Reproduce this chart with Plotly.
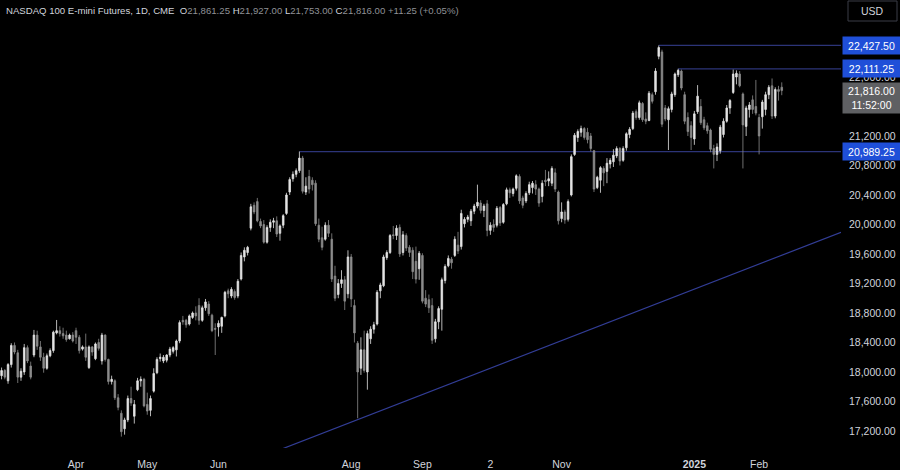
import pandas as pd
import plotly.graph_objects as go

# ---------------- data ----------------
holidays = ["2024-03-29", "2024-05-27", "2024-06-19", "2024-07-04", "2024-09-02",
            "2024-11-28", "2024-12-25", "2025-01-01", "2025-01-09", "2025-01-20"]
dates = [d.strftime("%Y-%m-%d") for d in pd.bdate_range("2024-02-27", "2025-02-12")
         if d.strftime("%Y-%m-%d") not in holidays]

opens = [17950, 18020, 17880, 18100, 18360, 18260, 17930, 18000, 18330, 18080,
         18230, 18500, 18340, 18200, 18050, 18220, 18290, 18530, 18560, 18520,
         18500, 18450, 18500, 18560, 18470, 18310, 18340, 18060, 18340, 18180,
         18400, 18150, 18500, 18170, 17870, 17880, 17650, 17440, 17230, 17350,
         17640, 17400, 17760, 17880, 17900, 17560, 17480, 17740, 17990, 18180,
         18150, 18160, 18230, 18280, 18300, 18420, 18700, 18700, 18650, 18740,
         18800, 18900, 18700, 18870, 18920, 18770, 18590, 18610, 18620, 18760,
         19100, 19030, 19090, 19030, 19260, 19560, 19620, 19950, 20260, 20310,
         20040, 20000, 19760, 19960, 20030, 20050, 19880, 19990, 20150, 20440,
         20620, 20680, 20730, 20900, 20440, 20650, 20600, 20560, 19990, 19820,
         19800, 19990, 19800, 19300, 19050, 19200, 19250, 19060, 19560, 18900,
         18390, 18050, 18300, 18000, 18450, 18580, 18650, 19100, 19170, 19550,
         19620, 19860, 19850, 19960, 19620, 19850, 19690, 19650, 19500, 19400,
         19580, 19000, 18980, 18900, 18450, 18680, 18850, 19240, 19440, 19530,
         19580, 19720, 19700, 20010, 20070, 20050, 20180, 20250, 20290, 20190,
         20280, 19920, 20000, 19990, 20230, 20030, 20280, 20470, 20420, 20490,
         20650, 20360, 20320, 20430, 20500, 20540, 20480, 20380, 20600, 20590,
         20560, 20700, 20440, 20080, 20170, 20070, 20400, 20950, 21180, 21250,
         21300, 21250, 21200, 21000, 20500, 20600, 20760, 20720, 20820, 20850,
         20930, 21030, 20870, 21040, 21220, 21300, 21530, 21450, 21640, 21430,
         21410, 21760, 21800, 22280, 22340, 21580, 21420, 21560, 21760, 22030,
         22080, 21760, 21450, 21340, 21160, 21530, 21600, 21420, 21340, 21280,
         21030, 20950, 21000, 21220, 21400, 21580, 21790, 22000, 22040, 21770,
         21330, 21560, 21690, 21600, 21450, 21460, 21560, 21760, 21880, 21470,
         21830, 21861.25]
highs = [18060, 18040, 18120, 18390, 18400, 18300, 18050, 18380, 18360, 18140,
         18570, 18560, 18420, 18260, 18250, 18320, 18560, 18705, 18620, 18600,
         18560, 18520, 18540, 18600, 18500, 18360, 18520, 18360, 18350, 18400,
         18450, 18530, 18510, 18180, 17950, 17900, 17700, 17480, 17380, 17680,
         17800, 17620, 17920, 17940, 17920, 17720, 17680, 18050, 18200, 18250,
         18230, 18240, 18340, 18350, 18440, 18700, 18760, 18720, 18780, 18820,
         18890, 19000, 18900, 18990, 18960, 18790, 18660, 18700, 18750, 19100,
         19130, 19150, 19120, 19260, 19620, 19690, 19710, 20280, 20300, 20360,
         20080, 20060, 19990, 20070, 20090, 20110, 20000, 20140, 20430, 20640,
         20720, 20760, 20989.25, 20930, 20640, 20740, 20640, 20600, 20080, 19970,
         20030, 20060, 19880, 19440, 19260, 19380, 19300, 19650, 19600, 18980,
         18420, 18470, 18560, 18560, 18620, 18680, 19110, 19210, 19590, 19650,
         19870, 19980, 19990, 20000, 19910, 19880, 19720, 19690, 19700, 19640,
         19610, 19110, 19050, 19000, 18720, 18890, 19280, 19460, 19580, 19560,
         19840, 19900, 20200, 20100, 20130, 20210, 20280, 20540, 20330, 20280,
         20330, 20030, 20070, 20250, 20250, 20290, 20500, 20500, 20500, 20680,
         20680, 20390, 20450, 20580, 20590, 20600, 20500, 20600, 20740, 20720,
         20790, 20760, 20460, 20300, 20200, 20340, 20950, 21240, 21290, 21340,
         21320, 21310, 21240, 21010, 20660, 20790, 20790, 20900, 20900, 21020,
         21060, 21050, 21060, 21250, 21320, 21540, 21560, 21680, 21660, 21520,
         21810, 21790, 22120, 22427.5, 22370, 21620, 21600, 21800, 22060, 22111.25,
         22100, 21800, 21520, 21400, 21540, 21890, 21700, 21460, 21380, 21300,
         21080, 21100, 21350, 21440, 21620, 21700, 22100, 22090, 22080, 21790,
         21610, 21660, 21750, 21960, 21500, 21690, 21800, 21890, 21980, 21860,
         21880, 21927]
lows = [17900, 17900, 17840, 18060, 18240, 17850, 17880, 17960, 18120, 17900,
        18200, 18300, 18150, 17990, 18030, 18200, 18260, 18510, 18480, 18450,
        18410, 18440, 18400, 18380, 18250, 18290, 18150, 18040, 18220, 18160,
        18290, 18100, 18140, 17830, 17830, 17620, 17480, 17123, 17150, 17320,
        17540, 17300, 17740, 17800, 17520, 17420, 17400, 17720, 17970, 18140,
        18120, 18130, 18200, 18250, 18210, 18390, 18640, 18600, 18630, 18720,
        18700, 18640, 18680, 18830, 18760, 18540, 18230, 18480, 18530, 18740,
        19000, 19000, 18980, 19000, 19240, 19500, 19580, 19920, 20140, 20030,
        19950, 19740, 19740, 19900, 19950, 19830, 19780, 19950, 20130, 20400,
        20580, 20640, 20700, 20420, 20400, 20420, 20460, 19980, 19760, 19650,
        19780, 19830, 19220, 18960, 19000, 19140, 18840, 19000, 18880, 18400,
        17372, 17960, 17990, 17760, 18380, 18520, 18630, 19000, 19150, 19520,
        19600, 19800, 19790, 19560, 19580, 19640, 19560, 19260, 19200, 19250,
        18930, 18880, 18800, 18380, 18400, 18580, 18560, 19200, 19420, 19400,
        19560, 19600, 19660, 19960, 20030, 19980, 20140, 20220, 20150, 20100,
        19840, 19860, 19900, 19960, 19980, 20010, 20260, 20360, 20380, 20460,
        20280, 20220, 20290, 20400, 20420, 20400, 20240, 20300, 20520, 20520,
        20520, 20440, 20000, 20030, 20010, 20040, 20380, 20930, 21120, 21190,
        21150, 21100, 20990, 20440, 20480, 20430, 20520, 20560, 20760, 20780,
        20900, 20800, 20850, 21000, 21170, 21280, 21420, 21420, 21390, 21360,
        21400, 21640, 21760, 22240, 21320, 21400, 21010, 21520, 21730, 22000,
        21820, 21360, 21200, 21010, 21080, 21500, 21350, 21280, 21230, 20980,
        20760, 20860, 20960, 21180, 21380, 21500, 21770, 21900, 21860, 20760,
        21200, 21450, 21500, 21480, 20950, 21300, 21480, 21700, 21430, 21440,
        21680, 21753]
closes = [18020, 17930, 18100, 18360, 18270, 17930, 18010, 18330, 18150, 17930,
          18500, 18350, 18200, 18050, 18220, 18290, 18540, 18560, 18520, 18490,
          18440, 18500, 18420, 18470, 18290, 18340, 18200, 18340, 18270, 18380,
          18320, 18500, 18170, 17870, 17900, 17650, 17520, 17190, 17350, 17640,
          17580, 17560, 17880, 17900, 17540, 17470, 17640, 17980, 18170, 18200,
          18200, 18230, 18310, 18330, 18420, 18670, 18680, 18640, 18760, 18800,
          18760, 18700, 18870, 18950, 18790, 18560, 18580, 18660, 18740, 19080,
          19060, 19120, 19010, 19230, 19580, 19650, 19690, 20240, 20170, 20050,
          19980, 19760, 19960, 20030, 20050, 19870, 19980, 20120, 20400, 20610,
          20680, 20730, 20900, 20450, 20520, 20480, 20540, 20010, 19800, 19690,
          19990, 19880, 19260, 19000, 19200, 19250, 18960, 19560, 18990, 18530,
          18000, 18300, 18020, 18520, 18580, 18640, 19080, 19180, 19560, 19620,
          19850, 19850, 19950, 19600, 19860, 19680, 19620, 19360, 19260, 19610,
          18960, 18920, 18870, 18430, 18680, 18860, 19250, 19430, 19540, 19480,
          19800, 19640, 20150, 20070, 20100, 20180, 20250, 20300, 20190, 20250,
          19920, 19990, 19960, 20220, 20020, 20270, 20470, 20430, 20480, 20660,
          20320, 20260, 20420, 20540, 20560, 20480, 20290, 20560, 20580, 20620,
          20760, 20480, 20050, 20170, 20060, 20310, 20920, 21210, 21260, 21300,
          21180, 21150, 21030, 20480, 20640, 20770, 20700, 20830, 20870, 20940,
          21030, 20860, 21030, 21230, 21290, 21510, 21450, 21650, 21420, 21400,
          21780, 21670, 22080, 22400, 21360, 21430, 21570, 21770, 22040, 22090,
          21850, 21400, 21260, 21180, 21500, 21740, 21380, 21310, 21270, 21020,
          20950, 21050, 21320, 21400, 21580, 21680, 22040, 22050, 21880, 21350,
          21580, 21620, 21560, 21510, 21200, 21660, 21760, 21860, 21470, 21830,
          21804.75, 21816]

price_ticks = [17200, 17600, 18000, 18400, 18800, 19200, 19600, 20000,
               20400, 20800, 21200, 22000]
month_tick_dates = ["2024-04-01", "2024-05-01", "2024-06-03", "2024-08-01", "2024-09-03",
                    "2024-10-02", "2024-11-01", "2025-01-02", "2025-02-03"]
month_tick_text = ["Apr", "May", "Jun", "Aug", "Sep", "2", "Nov", "<b>2025</b>", "Feb"]

levels = [22427.50, 22111.25, 20989.25]
level_start_dates = ["2024-12-16", "2024-12-24", "2024-07-10"]
trend_start = (86.6, 16956)   # (bar index, price)
trend_end = (259.3, 19894)
timer_text = "11:52:00"
symbol_title = "NASDAQ 100 E-mini Futures, 1D, CME"

# ---------------- figure ----------------
W, H = 900, 470
ML, MR, MT, MB = 0, 59, 0, 22
PW, PH = W - ML - MR, H - MT - MB
X_RANGE = [-0.485, 259.3]
Y_RANGE = [16969, 23044]

def px(x):
    return (x - ML) / PW

def py(y):
    return 1 - (y - MT) / PH

UP = "#e4e4e4"
DOWN = "#8c8c8c"
LINE = "#2c3478"
TXT = "#d1d4dc"
FONT = "Liberation Sans"

fig = go.Figure()
fig.add_trace(go.Candlestick(
    x=dates, open=opens, high=highs, low=lows, close=closes,
    increasing=dict(fillcolor=UP, line=dict(color=UP, width=0.8)),
    decreasing=dict(fillcolor=DOWN, line=dict(color=DOWN, width=0.8)),
    whiskerwidth=0, hoverinfo="skip", showlegend=False,
))

shapes = []
for lvl, d in zip(levels, level_start_dates):
    shapes.append(dict(type="line", xref="x", yref="y", x0=dates.index(d), x1=X_RANGE[1],
                       y0=lvl, y1=lvl, line=dict(color=LINE, width=1.2), layer="below"))
shapes.append(dict(type="line", xref="x", yref="y", x0=trend_start[0], y0=trend_start[1],
                   x1=trend_end[0], y1=trend_end[1], line=dict(color="#323d96", width=1.2),
                   layer="below"))
# USD box
shapes.append(dict(type="rect", xref="paper", yref="paper", x0=px(848), x1=px(897),
                   y0=py(21), y1=py(1), line=dict(color="#3a3d46", width=1),
                   fillcolor="#000000"))

annotations = []
# header
lo, hi, lw, cl = opens[-1], highs[-1], lows[-1], closes[-1]
chg = cl - closes[-2]
pct = chg / closes[-2] * 100
val = '<span style="color:#8f9196">{}</span>'
hdr = (f'<span style="color:{TXT}">{symbol_title}</span>  '
       f'O{val.format(f"{lo:,.2f}")} H{val.format(f"{hi:,.2f}")} '
       f'L{val.format(f"{lw:,.2f}")} C{val.format(f"{cl:,.2f}")} '
       + val.format(f"{chg:+,.2f} ({pct:+.2f}%)"))
annotations.append(dict(xref="paper", yref="paper", x=px(4), y=py(10), xanchor="left",
                        yanchor="middle", text=hdr, showarrow=False,
                        font=dict(family=FONT, size=9.6, color=TXT)))
annotations.append(dict(xref="paper", yref="paper", x=px(872.5), y=py(11), xanchor="center",
                        yanchor="middle", text="USD", showarrow=False,
                        font=dict(family=FONT, size=10.5, color=TXT)))
# level price labels
for lvl in levels:
    annotations.append(dict(xref="paper", yref="y", x=px(842), y=lvl, xanchor="left",
                            yanchor="middle", text=f"{lvl:,.2f}", showarrow=False,
                            bgcolor="#1f4fd8", width=53, height=13, borderpad=2,
                            align="center", font=dict(family=FONT, size=10.5, color="#ffffff")))
# last price + countdown
annotations.append(dict(xref="paper", yref="y", x=px(842), y=cl, xanchor="left",
                        yanchor="top", yshift=9, text=f"{cl:,.2f}<br>{timer_text}",
                        showarrow=False, bgcolor="#5f6063", width=53, height=26,
                        borderpad=2, align="center",
                        font=dict(family=FONT, size=10.5, color="#ffffff")))

fig.update_layout(
    width=W, height=H,
    margin=dict(l=ML, r=MR, t=MT, b=MB, autoexpand=False),
    paper_bgcolor="#000000", plot_bgcolor="#000000",
    shapes=shapes, annotations=annotations,
    showlegend=False, hovermode=False,
    xaxis=dict(type="category", range=X_RANGE, rangeslider=dict(visible=False),
               showgrid=False, zeroline=False, showline=False,
               tickmode="array", tickvals=month_tick_dates, ticktext=month_tick_text,
               tickangle=0, ticks="", ticklabelstandoff=8,
               tickfont=dict(family=FONT, size=10.5, color=TXT)),
    yaxis=dict(side="right", range=Y_RANGE, showgrid=False, zeroline=False,
               showline=False, tickmode="array", tickvals=price_ticks,
               tickformat=",.2f", ticks="", ticklabelstandoff=7,
               tickfont=dict(family=FONT, size=10.5, color=TXT)),
)

fig.write_html(
    "out.html",
    config={"displayModeBar": False, "staticPlot": True},
    post_script="document.body.style.margin='0';document.body.style.overflow='hidden';"
                "document.body.style.background='#000';",
)
